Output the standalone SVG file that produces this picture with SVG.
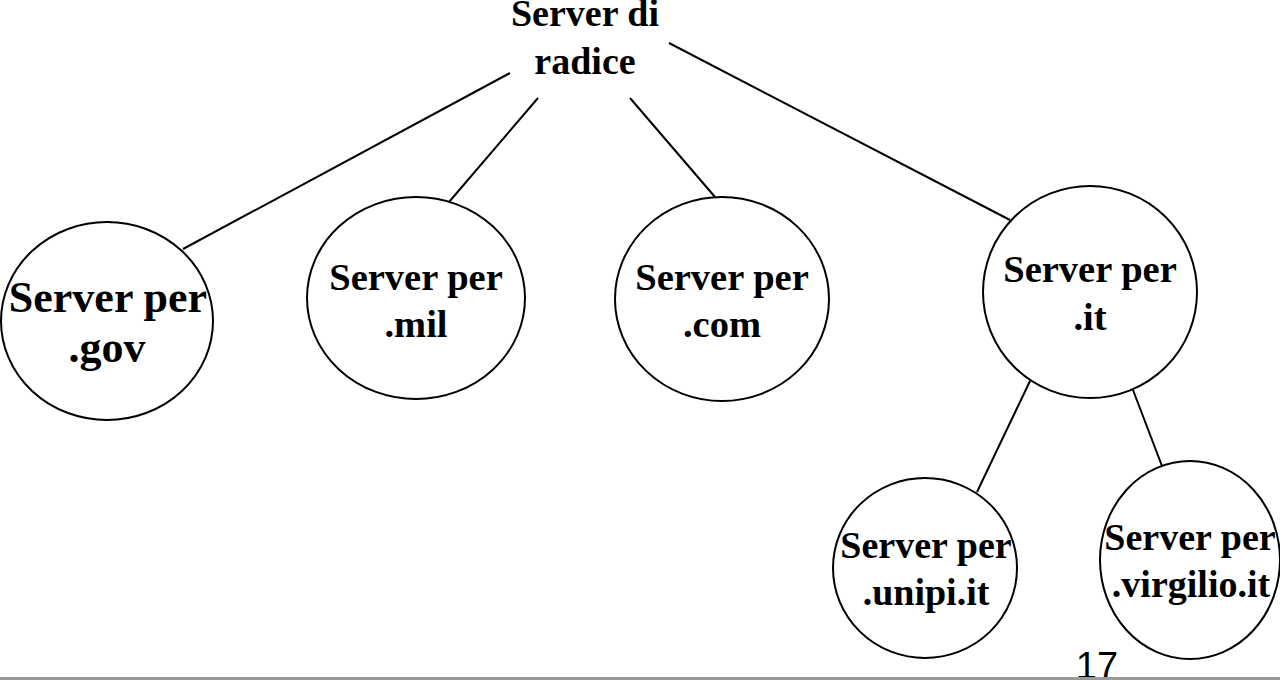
<svg xmlns="http://www.w3.org/2000/svg" width="1280" height="680" viewBox="0 0 1280 680">
<style>
.n ellipse{fill:#fff;stroke:#000;stroke-width:2}
.t{font-family:"Liberation Serif","Times New Roman",serif;font-weight:bold;fill:#000;text-anchor:middle}
#edges line{stroke:#000;stroke-width:2}
</style>
<rect width="1280" height="680" fill="#fff"/>
<g id="edges">
<line x1="510" y1="73" x2="183" y2="249"/>
<line x1="538" y1="98" x2="449" y2="202"/>
<line x1="630" y1="98" x2="715" y2="197"/>
<line x1="669" y1="43" x2="1010" y2="220"/>
<line x1="1030" y1="381" x2="977" y2="492"/>
<line x1="1133" y1="390" x2="1162" y2="466"/>
</g>
<g id="root" class="n">
<text class="t" x="585" y="26" font-size="38">Server di</text>
<text class="t" x="585" y="74" font-size="38">radice</text>
</g>
<g id="gov" class="n">
<ellipse cx="107" cy="321" rx="106" ry="99"/>
<text class="t" x="108" y="312" font-size="44">Server per</text>
<text class="t" x="107" y="362" font-size="44">.gov</text>
</g>
<g id="mil" class="n">
<ellipse cx="416" cy="298" rx="109" ry="101"/>
<text class="t" x="416" y="290" font-size="38.5">Server per</text>
<text class="t" x="416" y="337" font-size="38.5">.mil</text>
</g>
<g id="com" class="n">
<ellipse cx="722" cy="299" rx="107" ry="102"/>
<text class="t" x="722" y="290" font-size="38.5">Server per</text>
<text class="t" x="722" y="337" font-size="38.5">.com</text>
</g>
<g id="it" class="n">
<ellipse cx="1090" cy="292" rx="107" ry="106"/>
<text class="t" x="1090" y="282" font-size="38.5">Server per</text>
<text class="t" x="1090" y="330" font-size="38.5">.it</text>
</g>
<g id="unipi" class="n">
<ellipse cx="925" cy="568" rx="92" ry="90"/>
<text class="t" x="926" y="558" font-size="38">Server per</text>
<text class="t" x="926" y="605" font-size="38">.unipi.it</text>
</g>
<g id="virgilio" class="n">
<ellipse cx="1190" cy="560" rx="90" ry="99"/>
<text class="t" x="1190" y="550" font-size="38">Server per</text>
<text class="t" x="1191" y="597" font-size="38">.virgilio.it</text>
</g>
<text x="1097" y="679" font-family="Liberation Sans, Arial, sans-serif" font-size="38" text-anchor="middle" fill="#000">17</text>
<line x1="0" y1="678.5" x2="1280" y2="678.5" stroke="#999" stroke-width="3"/>
</svg>
